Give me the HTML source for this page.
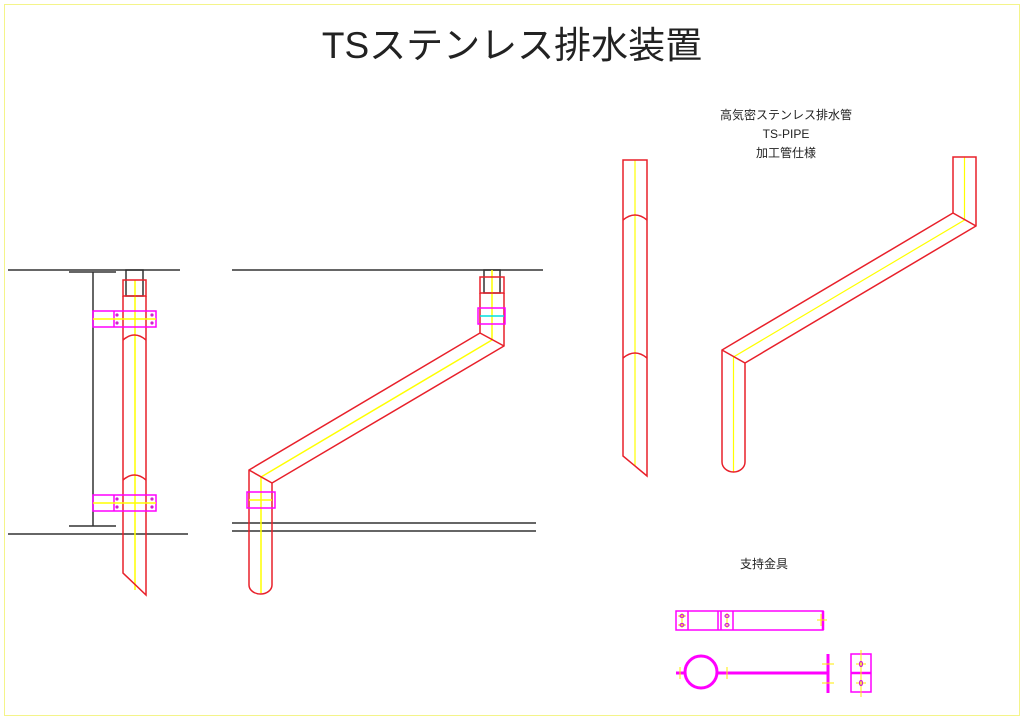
<!DOCTYPE html>
<html><head><meta charset="utf-8"><style>
html,body{margin:0;padding:0;background:#fff;}
svg{display:block;}
text{font-family:"Liberation Sans","Noto Sans CJK JP",sans-serif;fill:#222;}
</style></head><body>
<svg width="1024" height="724" viewBox="0 0 1024 724" xmlns="http://www.w3.org/2000/svg">
<rect x="4.5" y="4.5" width="1015" height="711" fill="none" stroke="#f4f48a" stroke-width="1"/>
<text x="512" y="58" font-size="37" text-anchor="middle" font-family="'Noto Sans CJK JP',sans-serif">TSステンレス排水装置</text>
<g font-size="12" text-anchor="middle">
<text x="786" y="119">高気密ステンレス排水管</text>
<text x="786" y="138">TS-PIPE</text>
<text x="786" y="157">加工管仕様</text>
<text x="764" y="568">支持金具</text>
</g>

<!-- Left drawing -->
<g stroke="#333" stroke-width="1.5" fill="none">
<line x1="8" y1="270" x2="180" y2="270"/>
<line x1="69" y1="272" x2="116" y2="272"/>
<line x1="93" y1="272" x2="93" y2="526"/>
<line x1="69" y1="526" x2="116" y2="526"/>
<line x1="8" y1="534" x2="188" y2="534"/>
<rect x="126" y="270" width="17" height="26"/>
</g>
<line x1="135" y1="280" x2="135" y2="590" stroke="#ffff00" stroke-width="1.5"/>
<g stroke="#e8202a" stroke-width="1.5" fill="none">
<rect x="123" y="280" width="23" height="16"/>
<path d="M123 296 V573 L146 595 V296"/>
<path d="M123 340 Q134.5 330 146 340"/>
<path d="M123 480 Q134.5 470 146 480"/>
</g>
<g stroke="#ff00ff" stroke-width="1.5" fill="none">
<rect x="93" y="311" width="63" height="16"/><line x1="114" y1="311" x2="114" y2="327"/>
<rect x="93" y="495" width="63" height="16"/><line x1="114" y1="495" x2="114" y2="511"/>
</g>
<line x1="93" y1="319" x2="156" y2="319" stroke="#ffff00" stroke-width="1.5"/>
<line x1="93" y1="503" x2="156" y2="503" stroke="#ffff00" stroke-width="1.5"/>
<g fill="#d020d0">
<circle cx="117" cy="315" r="1.6"/><circle cx="117" cy="323" r="1.6"/><circle cx="152" cy="315" r="1.6"/><circle cx="152" cy="323" r="1.6"/>
<circle cx="117" cy="499" r="1.6"/><circle cx="117" cy="507" r="1.6"/><circle cx="152" cy="499" r="1.6"/><circle cx="152" cy="507" r="1.6"/>
</g>

<!-- Middle drawing -->
<g stroke="#333" stroke-width="1.5" fill="none">
<line x1="232" y1="270" x2="543" y2="270"/>
<line x1="232" y1="523" x2="536" y2="523"/>
<line x1="232" y1="531" x2="536" y2="531"/>
<rect x="484" y="270" width="16" height="23"/>
</g>
<polyline points="492,270 492,340 261,477 261,593" stroke="#ffff00" stroke-width="1.5" fill="none"/>
<g stroke="#e8202a" stroke-width="1.5" fill="none">
<rect x="480" y="277" width="24" height="16"/>
<path d="M480 293 V333 L249 470 V585 A11.5 9 0 0 0 272 585 V483 L504 346 V293"/>
<line x1="480" y1="333" x2="504" y2="346"/>
<line x1="249" y1="470" x2="272" y2="483"/>
</g>
<rect x="478" y="308" width="27" height="16" stroke="#ff00ff" stroke-width="1.5" fill="none"/>
<line x1="480" y1="316" x2="504" y2="316" stroke="#00e0e0" stroke-width="1.5"/>
<rect x="247" y="492" width="28" height="16" stroke="#ff00ff" stroke-width="1.5" fill="none"/>
<line x1="249" y1="500" x2="272" y2="500" stroke="#ffff00" stroke-width="1.5"/>

<!-- Right straight pipe -->
<line x1="635" y1="160" x2="635" y2="466" stroke="#ffff00" stroke-width="1.2"/>
<g stroke="#e8202a" stroke-width="1.5" fill="none">
<path d="M623 160 H647 V476 L623 456 Z"/>
<path d="M623 220 Q635 210 647 220"/>
<path d="M623 358 Q635 348 647 358"/>
</g>
<!-- Right bent pipe -->
<polyline points="964.5,157 964.5,220 733.5,357 733.5,472" stroke="#ffff00" stroke-width="1.2" fill="none"/>
<g stroke="#e8202a" stroke-width="1.5" fill="none">
<path d="M953 157 H976 V226 L745 363 V462 A11.5 10 0 0 1 722 462 V350 L953 213 Z"/>
<line x1="953" y1="213" x2="976" y2="226"/>
<line x1="722" y1="350" x2="745" y2="363"/>
</g>

<!-- Bracket parts -->
<g stroke="#ff00ff" stroke-width="1.5" fill="none">
<rect x="676" y="611" width="147" height="19"/>
<line x1="688" y1="611" x2="688" y2="630"/>
<line x1="718" y1="611" x2="718" y2="630"/>
<line x1="721" y1="611" x2="721" y2="630"/>
<line x1="733" y1="611" x2="733" y2="630"/>
<line x1="823" y1="611" x2="823" y2="630" stroke-width="2.5"/>
<circle cx="701" cy="672" r="16" stroke-width="3"/>
<line x1="676" y1="673" x2="685" y2="673" stroke-width="3"/>
<line x1="717" y1="673" x2="828" y2="673" stroke-width="3"/>
<line x1="828" y1="654" x2="828" y2="693" stroke-width="3"/>
<rect x="851" y="654" width="20" height="38"/>
<line x1="851" y1="673" x2="871" y2="673" stroke-width="2.5"/>
</g>
<g stroke="#ffee00" stroke-width="1">
<line x1="682" y1="613" x2="682" y2="628"/><line x1="678" y1="616" x2="686" y2="616"/><line x1="678" y1="625" x2="686" y2="625"/>
<line x1="727" y1="613" x2="727" y2="628"/>
<line x1="817" y1="620" x2="827" y2="620"/><line x1="821" y1="614" x2="821" y2="626"/>
<line x1="680" y1="667" x2="680" y2="679"/><line x1="727" y1="667" x2="727" y2="679"/>
<line x1="822" y1="664" x2="834" y2="664"/><line x1="822" y1="683" x2="834" y2="683"/>
<line x1="861" y1="650" x2="861" y2="697"/><line x1="856" y1="664" x2="866" y2="664"/><line x1="856" y1="683" x2="866" y2="683"/>
</g>
<g fill="none" stroke="#d020d0" stroke-width="1.2">
<ellipse cx="682" cy="616" rx="2" ry="1.5"/><ellipse cx="682" cy="625" rx="2" ry="1.5"/>
<ellipse cx="727" cy="616" rx="2" ry="1.5"/><ellipse cx="727" cy="625" rx="2" ry="1.5"/>
<ellipse cx="861" cy="664" rx="1.5" ry="2.5"/><ellipse cx="861" cy="683" rx="1.5" ry="2.5"/>
</g>
</svg>
</body></html>
